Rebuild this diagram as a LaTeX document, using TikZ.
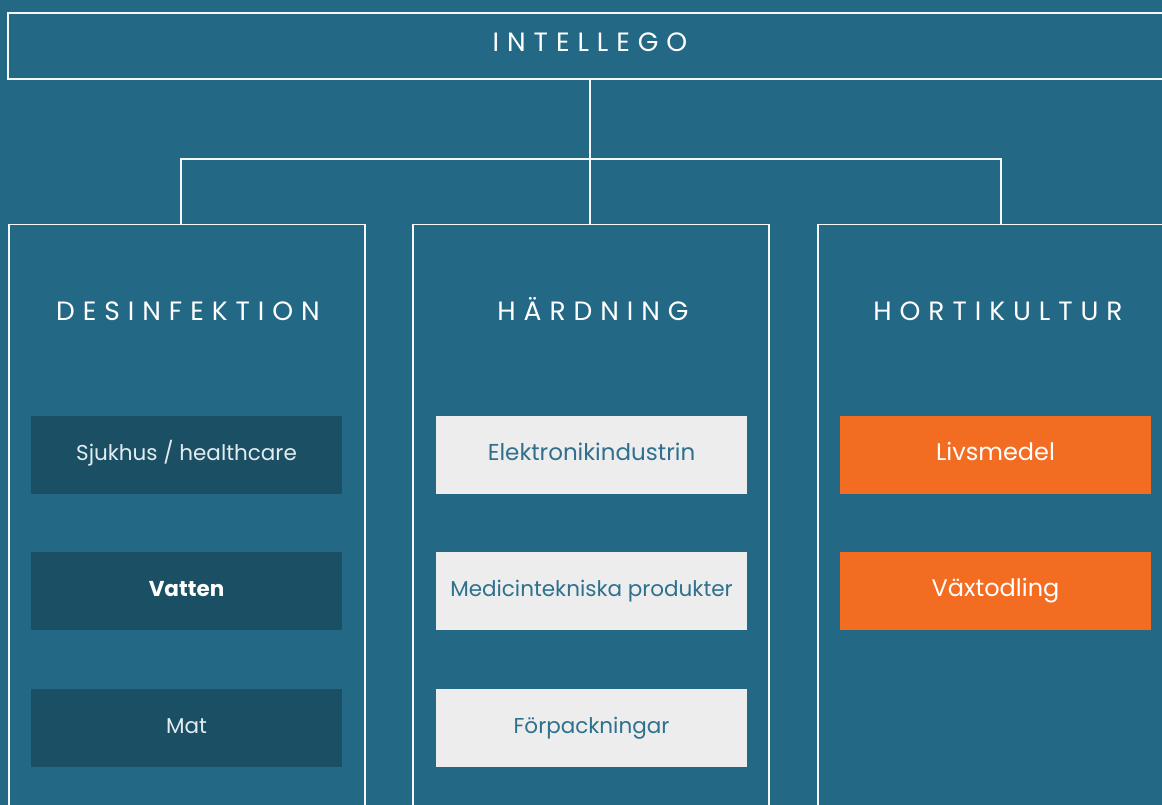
\documentclass[tikz,border=0pt]{standalone}
\usepackage{fontspec}
\setmainfont{Poppins}
\newfontfamily\spaced{Poppins}[LetterSpace=30]
\definecolor{bgblue}{HTML}{236884}
\definecolor{darkbox}{HTML}{1B4F64}
\definecolor{lightbox}{HTML}{EDEDED}
\definecolor{orangebox}{HTML}{F26C22}
\definecolor{lighttext}{HTML}{2E708D}
\definecolor{paletext}{HTML}{E3ECF0}
\definecolor{linecol}{HTML}{F4F8FA}
\begin{document}
\begin{tikzpicture}[x=1pt,y=-1pt,
  frame/.style={draw=linecol,line width=1.4pt},
  colbox/.style={frame,minimum width=356pt,minimum height=620pt,anchor=north},
  title/.style={font=\spaced\fontsize{26.5}{30}\selectfont,text=white,anchor=base},
  item/.style={minimum width=311pt,minimum height=78pt,inner sep=0pt,text height=1.16em,text depth=0.0em,font=\fontsize{21.5}{26}\selectfont},
  darkitem/.style={item,fill=darkbox,text=paletext},
  lightitem/.style={item,fill=lightbox,text=lighttext},
  orangeitem/.style={item,fill=orangebox,text=white,font=\fontsize{24}{28}\selectfont},
  conn/.style={draw=linecol,line width=1.2pt}]
\fill[bgblue] (0,0) rectangle (1162,805);
\useasboundingbox (0,0) rectangle (1162,805);
% top box
\node[frame,minimum width=1164pt,minimum height=66pt,inner sep=0pt,text height=1.16em,text depth=0pt,font=\spaced\fontsize{26.5}{30}\selectfont,text=white] (top) at (590,46) {INTELLEGO};
% columns
\node[colbox] (colL) at (187,224) {};
\node[colbox] (colM) at (591,224) {};
\node[colbox] (colR) at (996,224) {};
% titles
\node[title] (tL) at (188,320) {DESINFEKTION};
\node[title] (tM) at (593,320) {HÄRDNING};
\node[title] (tR) at (998,320) {HORTIKULTUR};
% items
\node[darkitem] (l1) at (186.5,455) {Sjukhus / healthcare};
\node[darkitem,font=\bfseries\fontsize{21.5}{26}\selectfont,text=white] (l2) at (186.5,591) {Vatten};
\node[darkitem] (l3) at (186.5,728) {Mat};
\node[lightitem,font=\fontsize{23}{28}\selectfont] (m1) at (591.5,455) {Elektronikindustrin};
\node[lightitem] (m2) at (591.5,591) {Medicintekniska produkter};
\node[lightitem] (m3) at (591.5,728) {Förpackningar};
\node[orangeitem] (r1) at (995.5,455) {Livsmedel};
\node[orangeitem] (r2) at (995.5,591) {Växtodling};
% connectors
\coordinate (jL) at (181,159);
\coordinate (jM) at (590,159);
\coordinate (jR) at (1001,159);
\draw[conn] (top.south -| jM) -- (jM |- colM.north);
\draw[conn] (jL |- colL.north) -- (jL) -- (jR) -- (jR |- colR.north);
\end{tikzpicture}
\end{document}
